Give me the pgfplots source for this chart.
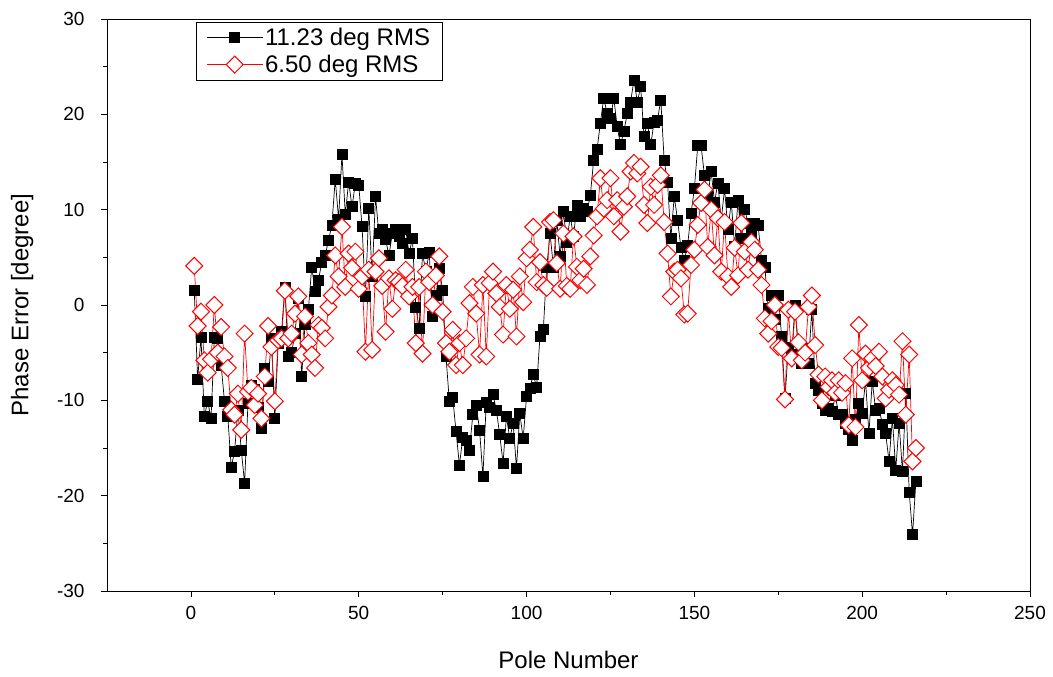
\documentclass[border=0pt]{standalone}
\usepackage{fontspec}
\setmainfont{Liberation Sans}
\usepackage{pgfplots}
\usepackage{pgfplotstable}
\pgfplotsset{compat=1.18}
\pgfplotstableread{
n v
1 1.5
2 -7.8
3 -3.4
4 -11.7
5 -10.1
6 -11.9
7 -3.4
8 -3.5
9 -6.3
10 -10.1
11 -11.7
12 -17.0
13 -15.4
14 -11.0
15 -15.2
16 -18.7
17 -10.3
18 -8.4
19 -8.9
20 -10.7
21 -12.9
22 -6.6
23 -8.0
24 -3.5
25 -11.9
26 -4.0
27 -2.8
28 1.8
29 -5.4
30 -5.0
31 -3.0
32 0.7
33 -7.5
34 -2.0
35 -0.5
36 4.0
37 1.4
38 2.6
39 4.5
40 5.2
41 6.8
42 8.4
43 13.2
44 9.0
45 15.8
46 9.5
47 12.9
48 10.3
49 12.8
50 12.6
51 8.2
52 0.9
53 10.1
54 3.0
55 11.4
56 7.5
57 7.9
58 6.9
59 5.2
60 7.5
61 7.9
62 7.2
63 6.5
64 7.9
65 5.4
66 7.0
67 -0.2
68 -2.4
69 5.4
70 3.5
71 5.5
72 -1.2
73 1.0
74 3.8
75 1.5
76 -5.4
77 -10.1
78 -9.7
79 -13.3
80 -16.8
81 -13.9
82 -14.2
83 -15.2
84 -11.5
85 -10.5
86 -13.1
87 -18.0
88 -10.2
89 -10.7
90 -9.4
91 -11.0
92 -13.6
93 -16.6
94 -11.7
95 -14.0
96 -12.4
97 -17.1
98 -11.4
99 -14.0
100 -9.6
101 -8.7
102 -7.3
103 -8.6
104 -3.3
105 -2.6
106 3.9
107 7.5
108 4.0
109 8.9
110 5.1
111 9.8
112 6.6
113 9.3
114 7.2
115 10.5
116 9.3
117 10.1
118 9.8
119 11.5
120 15.2
121 16.3
122 19.1
123 21.7
124 20.1
125 19.6
126 21.7
127 18.7
128 16.8
129 18.2
130 20.1
131 21.3
132 23.6
133 21.3
134 22.9
135 17.7
136 19.1
137 16.8
138 19.2
139 19.4
140 21.5
141 15.2
142 12.9
143 7.0
144 11.4
145 8.9
146 6.0
147 4.7
148 6.3
149 9.6
150 12.2
151 16.7
152 16.7
153 13.6
154 11.4
155 14.0
156 10.8
157 12.8
158 8.9
159 12.2
160 7.9
161 10.8
162 6.1
163 11.0
164 7.0
165 10.0
166 8.6
167 7.5
168 8.6
169 8.4
170 4.7
171 4.0
172 -0.4
173 1.0
174 -1.5
175 1.0
176 -3.3
177 -9.8
178 -4.4
179 -5.2
180 0.0
181 -5.2
182 -6.1
183 -4.5
184 -6.1
185 -0.5
186 -8.2
187 -9.0
188 -10.3
189 -11.0
190 -10.8
191 -11.2
192 -9.5
193 -11.5
194 -11.5
195 -12.4
196 -13.0
197 -14.2
198 -12.0
199 -10.3
200 -11.4
201 -7.9
202 -13.5
203 -8.0
204 -11.0
205 -10.8
206 -12.5
207 -13.5
208 -16.4
209 -11.9
210 -17.3
211 -12.4
212 -17.5
213 -9.3
214 -19.6
215 -24.1
216 -18.5
}\blackdata
\pgfplotstableread{
n v
1 4.1
2 -2.2
3 -0.7
4 -5.8
5 -7.1
6 -5.7
7 0.0
8 -5.0
9 -2.3
10 -5.4
11 -6.6
12 -11.0
13 -11.5
14 -9.3
15 -13.1
16 -3.0
17 -9.1
18 -8.7
19 -10.5
20 -9.3
21 -11.9
22 -7.5
23 -2.2
24 -4.4
25 -10.1
26 -3.7
27 -3.5
28 1.5
29 -3.5
30 -3.0
31 -0.9
32 0.9
33 -5.2
34 -1.2
35 -4.0
36 -5.2
37 -6.6
38 -2.1
39 -2.4
40 -3.5
41 -0.2
42 1.0
43 5.2
44 3.0
45 8.2
46 1.9
47 5.4
48 3.9
49 5.6
50 1.7
51 3.0
52 -4.9
53 3.7
54 -4.7
55 3.5
56 4.9
57 2.0
58 -2.8
59 2.8
60 -0.4
61 2.6
62 2.4
63 2.0
64 3.7
65 0.9
66 1.9
67 -4.0
68 1.9
69 -5.1
70 3.5
71 2.4
72 0.0
73 3.1
74 5.1
75 -0.7
76 -4.0
77 -4.9
78 -2.6
79 -6.3
80 -4.0
81 -6.3
82 -3.5
83 0.2
84 1.9
85 -0.9
86 -5.2
87 2.1
88 -5.4
89 2.3
90 3.5
91 1.2
92 -0.2
93 -3.1
94 2.1
95 -0.4
96 1.6
97 -3.3
98 3.0
99 0.3
100 4.9
101 5.8
102 8.2
103 2.4
104 4.5
105 2.1
106 1.8
107 8.7
108 8.9
109 4.4
110 1.7
111 7.5
112 2.0
113 1.7
114 7.2
115 4.0
116 2.6
117 3.8
118 2.1
119 5.1
120 7.3
121 9.3
122 13.3
123 10.1
124 11.0
125 13.3
126 9.3
127 11.0
128 7.7
129 10.3
130 11.4
131 14.0
132 14.9
133 13.8
134 14.5
135 10.5
136 8.6
137 12.4
138 10.5
139 12.6
140 13.6
141 8.7
142 5.4
143 0.9
144 3.5
145 3.7
146 2.8
147 -1.0
148 -0.9
149 4.2
150 5.8
151 8.4
152 10.7
153 12.1
154 6.1
155 10.0
156 5.2
157 9.1
158 3.5
159 8.7
160 3.0
161 1.9
162 6.0
163 3.1
164 8.6
165 5.6
166 3.7
167 6.6
168 5.8
169 3.7
170 2.1
171 -1.4
172 -3.0
173 -1.7
174 0.0
175 -4.4
176 -4.5
177 -9.9
178 -0.5
179 -5.6
180 -0.7
181 -3.9
182 -5.8
183 -5.0
184 -0.2
185 1.0
186 -4.2
187 -7.3
188 -10.0
189 -7.5
190 -8.6
191 -7.9
192 -9.2
193 -7.9
194 -9.2
195 -8.2
196 -12.6
197 -5.6
198 -12.8
199 -2.1
200 -7.9
201 -5.1
202 -6.6
203 -5.6
204 -6.4
205 -4.9
206 -7.5
207 -9.8
208 -8.9
209 -7.9
210 -8.4
211 -9.4
212 -3.8
213 -11.5
214 -5.2
215 -16.4
216 -15.0
}\reddata
\begin{document}
\begin{tikzpicture}
\useasboundingbox (-107bp,-86bp) rectangle (946bp,591bp);
\begin{axis}[
  at={(0,0)}, anchor=south west,
  scale only axis, width=923bp, height=572bp,
  xmin=-25, xmax=250, ymin=-30, ymax=30,
  xtick={0,50,...,250}, ytick={-30,-20,...,30},
  minor x tick num=1, minor y tick num=1,
  tick align=outside, tick pos=left,
  major tick length=6bp, minor tick length=3.5bp,
  every tick/.style={black, line width=0.8bp},
  axis line style={line width=0.8bp},
  /pgf/number format/assume math mode=true,
  ticklabel style={font=\fontsize{19bp}{22bp}\selectfont},
  yticklabel shift=13bp, xticklabel shift=6bp,
  xlabel={Pole Number}, ylabel={Phase Error [degree]},
  label style={font=\fontsize{24bp}{28bp}\selectfont},
  xlabel style={at={(axis description cs:0.5,-0.12)}, anchor=center},
  ylabel style={at={(axis description cs:-0.092,0.5)}, anchor=center},
  legend style={at={(axis description cs:0.0964,0.995)}, anchor=north west,
    draw=black, line width=0.8bp, font=\fontsize{24bp}{28bp}\selectfont,
    inner xsep=10bp, inner ysep=4bp, row sep=4bp},
  legend cell align=left,
  legend image code/.code={\draw[mark repeat=2,mark phase=2,#1] plot coordinates {(0bp,0bp) (28bp,0bp) (56bp,0bp)};},
]
\addplot[black, line width=0.7bp, mark=square*, mark size=5bp, mark options={solid, fill=black}] table[x=n, y=v] {\blackdata};
\addlegendentry{11.23 deg RMS}
\addplot[red, line width=0.7bp, mark=square*, mark size=6bp, mark options={solid, rotate=45, fill=white, draw=red, line width=1bp}] table[x=n, y=v] {\reddata};
\addlegendentry{6.50 deg RMS}
\end{axis}
\end{tikzpicture}
\end{document}
